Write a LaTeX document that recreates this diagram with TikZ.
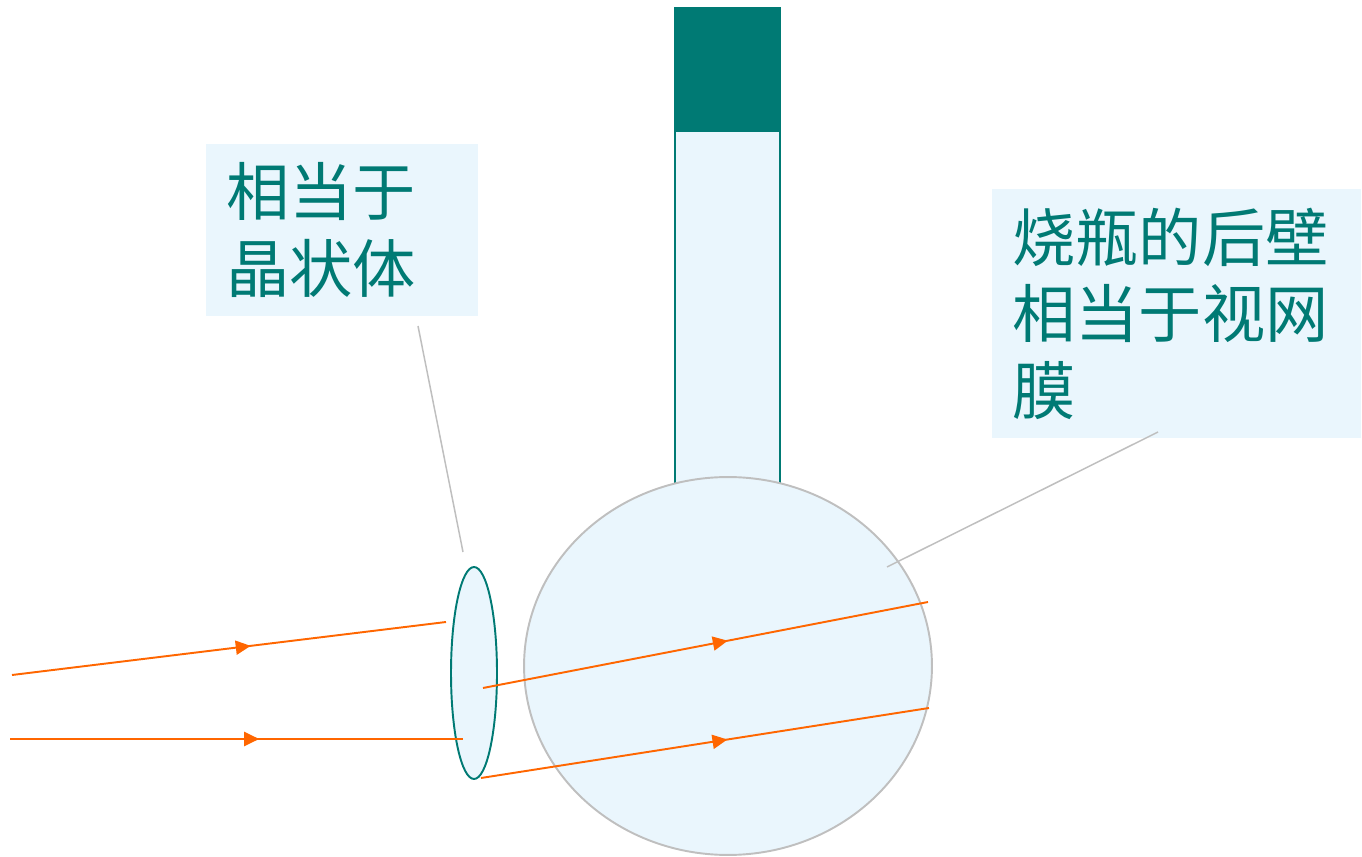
\documentclass[tikz,border=0pt]{standalone}
\usepackage{fontspec}
\newfontfamily\cjk{Noto Sans CJK SC}
\usetikzlibrary{shapes.geometric,decorations.markings,arrows.meta}

\definecolor{flaskteal}{RGB}{0,122,116}
\definecolor{glassblue}{RGB}{234,246,253}
\definecolor{rayorange}{RGB}{255,102,0}
\definecolor{pointgray}{RGB}{191,191,191}

\tikzset{
	ray/.style={rayorange, line width=1.1pt, postaction={decorate},
		decoration={markings, mark=at position 0.55 with {\arrow{Triangle[length=8.5pt,width=8pt]}}}},
	pointer/.style={pointgray, line width=0.85pt},
	callout/.style={fill=glassblue, text=flaskteal, anchor=north west, align=left,
		inner xsep=0.4cm, inner ysep=0pt, font=\cjk\fontsize{36pt}{43.7pt}\selectfont},
}

\begin{document}
\begin{tikzpicture}[x=0.02cm,y=-0.02cm]
	\useasboundingbox (0,0) rectangle (1362,857);
	
	\node[draw=flaskteal, line width=1.1pt, fill=glassblue, minimum width=2.1cm, minimum height=7.2cm, inner sep=0, anchor=north] (neck) at (727.5,130) {};
	\node[fill=flaskteal, minimum width=2.14cm, minimum height=2.46cm, inner sep=0, anchor=north] (stopper) at (727.5,7) {};
	\node[ellipse, draw=pointgray, line width=1.1pt, fill=glassblue, minimum width=8.16cm, minimum height=7.56cm, inner sep=0] (bulb) at (728,666) {};
	\node[ellipse, draw=flaskteal, line width=1.1pt, fill=glassblue, minimum width=0.92cm, minimum height=4.24cm, inner sep=0] (lens) at (474,673) {};
	
	\node[callout, minimum width=5.44cm, minimum height=3.44cm, text width=4.64cm] (lenslabel) at (206,144) {相当于\\晶状体};
	\node[callout, minimum width=7.38cm, minimum height=4.98cm, text width=6.58cm] (walllabel) at (992,189) {烧瓶的后壁\\相当于视网\\膜};
	
	\coordinate (l1) at (418,326);
	\coordinate (l2) at (463,552);
	\coordinate (w1) at (1158,432);
	\coordinate (w2) at (887,567);
	\draw[pointer] (l1) -- (l2);
	\draw[pointer] (w1) -- (w2);
	
	\coordinate (r1a) at (12,675);
	\coordinate (r1b) at (446,622);
	\coordinate (r2a) at (10,739);
	\coordinate (r2b) at (463,739);
	\coordinate (r3a) at (483,688);
	\coordinate (r3b) at (928,602);
	\coordinate (r4a) at (481,778);
	\coordinate (r4b) at (929,708);
	\draw[ray] (r1a) -- (r1b);
	\draw[ray] (r2a) -- (r2b);
	\draw[ray] (r3a) -- (r3b);
	\draw[ray] (r4a) -- (r4b);
	
\end{tikzpicture}
\end{document}
